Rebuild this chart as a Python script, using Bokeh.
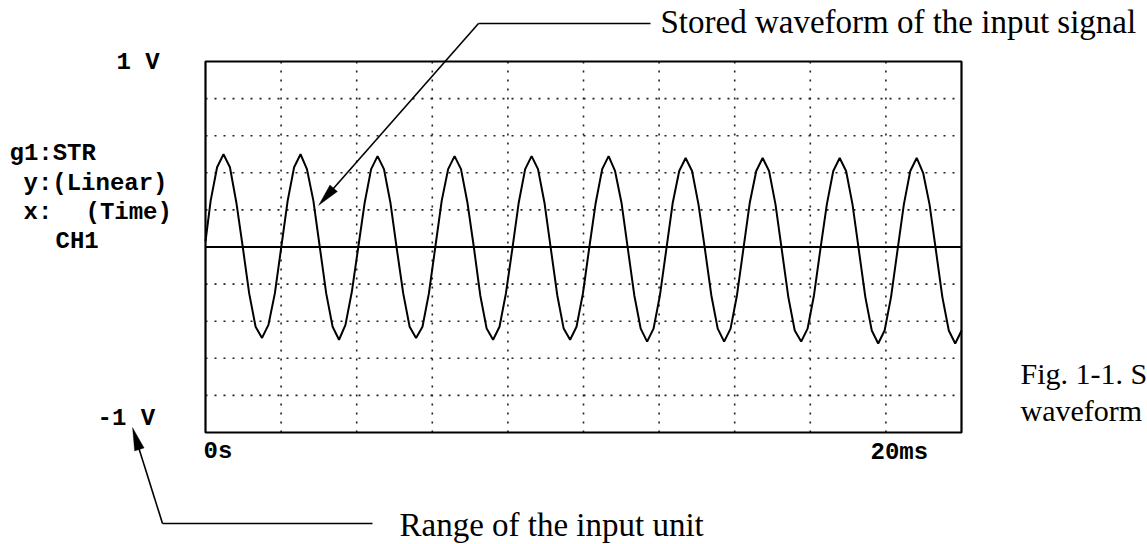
import math
from bokeh.plotting import figure
from bokeh.models import Label, Arrow, PolyAnnotation, Range1d
from bokeh.embed import file_html
from bokeh.resources import INLINE

# ---------------- data ----------------
SAMPLE_START_MS = -0.033
SAMPLE_STEP_MS = 0.1698
volts = [
    0.03, 0.25, 0.43, 0.50, 0.43, 0.24, 0.00, -0.25, -0.43, -0.49, -0.42, -0.25,
    0.00, 0.25, 0.43, 0.50, 0.42, 0.25, 0.00, -0.25, -0.43, -0.50, -0.42, -0.24,
    0.00, 0.24, 0.42, 0.49, 0.42, 0.24, -0.01, -0.25, -0.43, -0.49, -0.43, -0.25,
    0.00, 0.25, 0.42, 0.49, 0.42, 0.24, 0.00, -0.26, -0.44, -0.50, -0.43, -0.25,
    -0.01, 0.24, 0.42, 0.49, 0.42, 0.24, -0.01, -0.26, -0.44, -0.50, -0.43, -0.25,
    0.00, 0.24, 0.42, 0.49, 0.41, 0.24, -0.01, -0.26, -0.44, -0.51, -0.44, -0.26,
    -0.01, 0.24, 0.41, 0.48, 0.41, 0.23, -0.01, -0.26, -0.44, -0.51, -0.44, -0.26,
    -0.01, 0.24, 0.41, 0.48, 0.41, 0.23, -0.02, -0.27, -0.45, -0.51, -0.44, -0.26,
    -0.01, 0.23, 0.41, 0.48, 0.41, 0.23, -0.02, -0.27, -0.45, -0.52, -0.45, -0.27,
    -0.02, 0.23, 0.41, 0.48, 0.40, 0.23, -0.02, -0.27, -0.45, -0.52, -0.45,
]
t_ms = [SAMPLE_START_MS + i * SAMPLE_STEP_MS for i in range(len(volts))]
# the first stored sample is taken at the left edge of the screen
t_ms[0] = 0.0

time_range_ms = [0, 20]
volt_range = [-1, 1]
time_grid_ms = [2, 4, 6, 8, 10, 12, 14, 16, 18]
volt_grid = [-0.8, -0.6, -0.4, -0.2, 0.2, 0.4, 0.6, 0.8]
zero_level_v = 0.0

y_top_label = "1 V"
y_bottom_label = "-1 V"
x_left_label = "0s"
x_right_label = "20ms"
info_lines = ["g1:STR", "y:(Linear)", "x:", "(Time)", "CH1"]
callout_top = "Stored waveform of the input signal"
callout_bottom = "Range of the input unit"
caption_lines = ["Fig. 1-1. S", "waveform"]

# ---------------- layout ----------------
W, H = 1147, 544
FL, FR, FT, FB = 205, 961, 61, 432   # pixel edges of the scope screen

t0, t1 = time_range_ms
v0, v1 = volt_range
ms_per_px = (t1 - t0) / (FR - FL)
v_per_px = (v1 - v0) / (FB - FT)

# the frame covers the whole page; the ranges are extended so that the
# scope screen (0..20 ms, -1..1 V) sits where it does in the reference
p = figure(width=W, height=H,
           x_range=Range1d(t0 - FL * ms_per_px, t1 + (W - FR) * ms_per_px),
           y_range=Range1d(v0 - (H - FB) * v_per_px, v1 + FT * v_per_px),
           x_axis_type=None, y_axis_type=None,
           toolbar_location=None, output_backend="svg",
           min_border=0)
p.outline_line_color = None
p.background_fill_color = "white"
p.border_fill_color = "white"
p.xgrid.visible = False
p.ygrid.visible = False


def dx(px):
    return t0 + (px - FL) * ms_per_px


def dy(py):
    return v1 - (py - FT) * v_per_px


DOT = dict(line_color="#222222", line_dash="2 7", line_width=1.6)
# dotted graticule
p.segment(x0=time_grid_ms, y0=[v0] * len(time_grid_ms),
          x1=time_grid_ms, y1=[v1] * len(time_grid_ms), **DOT)
p.segment(x0=[t0] * len(volt_grid), y0=volt_grid,
          x1=[t1] * len(volt_grid), y1=volt_grid, **DOT)
# zero level
p.segment(x0=[t0], y0=[zero_level_v], x1=[t1], y1=[zero_level_v],
          line_color="black", line_width=2)
# screen border
p.quad(left=[t0], right=[t1], bottom=[v0], top=[v1],
       fill_color=None, line_color="black", line_width=2.2)

# stored waveform
p.line(t_ms, volts, line_color="black", line_width=2)

MONO = "Liberation Mono"
SERIF = "Liberation Serif"


def label(text, left_px, mid_py, font, size, bold=False):
    p.add_layout(Label(x=dx(left_px), y=dy(mid_py), text=text,
                       text_font=font, text_font_size=size,
                       text_font_style="bold" if bold else "normal",
                       text_baseline="middle", text_align="left",
                       text_color="black"))


MS = "24px"
label(y_top_label, 116, 62, MONO, MS, True)
label(y_bottom_label, 97, 418, MONO, MS, True)
label(x_left_label, 203, 451, MONO, MS, True)
label(x_right_label, 870, 452, MONO, MS, True)
label(info_lines[0], 9, 153, MONO, MS, True)
label(info_lines[1], 23, 183, MONO, MS, True)
label(info_lines[2], 23, 212, MONO, MS, True)
label(info_lines[3], 85, 212, MONO, MS, True)
label(info_lines[4], 55, 241, MONO, MS, True)

label(callout_top, 660, 21, SERIF, "33px")
label(callout_bottom, 399, 524, SERIF, "33px")
label(caption_lines[0], 1020, 373, SERIF, "30px")
label(caption_lines[1], 1020, 410, SERIF, "30px")


def seg(x0, y0, x1, y1, w=1.6):
    p.add_layout(Arrow(end=None, start=None, x_start=dx(x0), y_start=dy(y0),
                       x_end=dx(x1), y_end=dy(y1), line_color="black", line_width=w))


def head(tip, frm, length=23, half=5):
    ux, uy = tip[0] - frm[0], tip[1] - frm[1]
    n = math.hypot(ux, uy)
    ux, uy = ux / n, uy / n
    bx, by = tip[0] - ux * length, tip[1] - uy * length
    qx, qy = -uy, ux
    xs = [tip[0], bx + qx * half, bx - qx * half]
    ys = [tip[1], by + qy * half, by - qy * half]
    p.add_layout(PolyAnnotation(xs=[dx(v) for v in xs], ys=[dy(v) for v in ys],
                                fill_color="black", fill_alpha=1.0,
                                line_color="black", line_width=1))


# top leader
seg(650, 23, 478, 23)
seg(478, 23, 325, 197)
head((318, 205), (478, 23))
# bottom leader
seg(372, 523, 162, 523)
seg(162, 523, 135, 437)
head((132, 427), (162, 523))

open("out.html", "w").write(file_html(p, INLINE))
